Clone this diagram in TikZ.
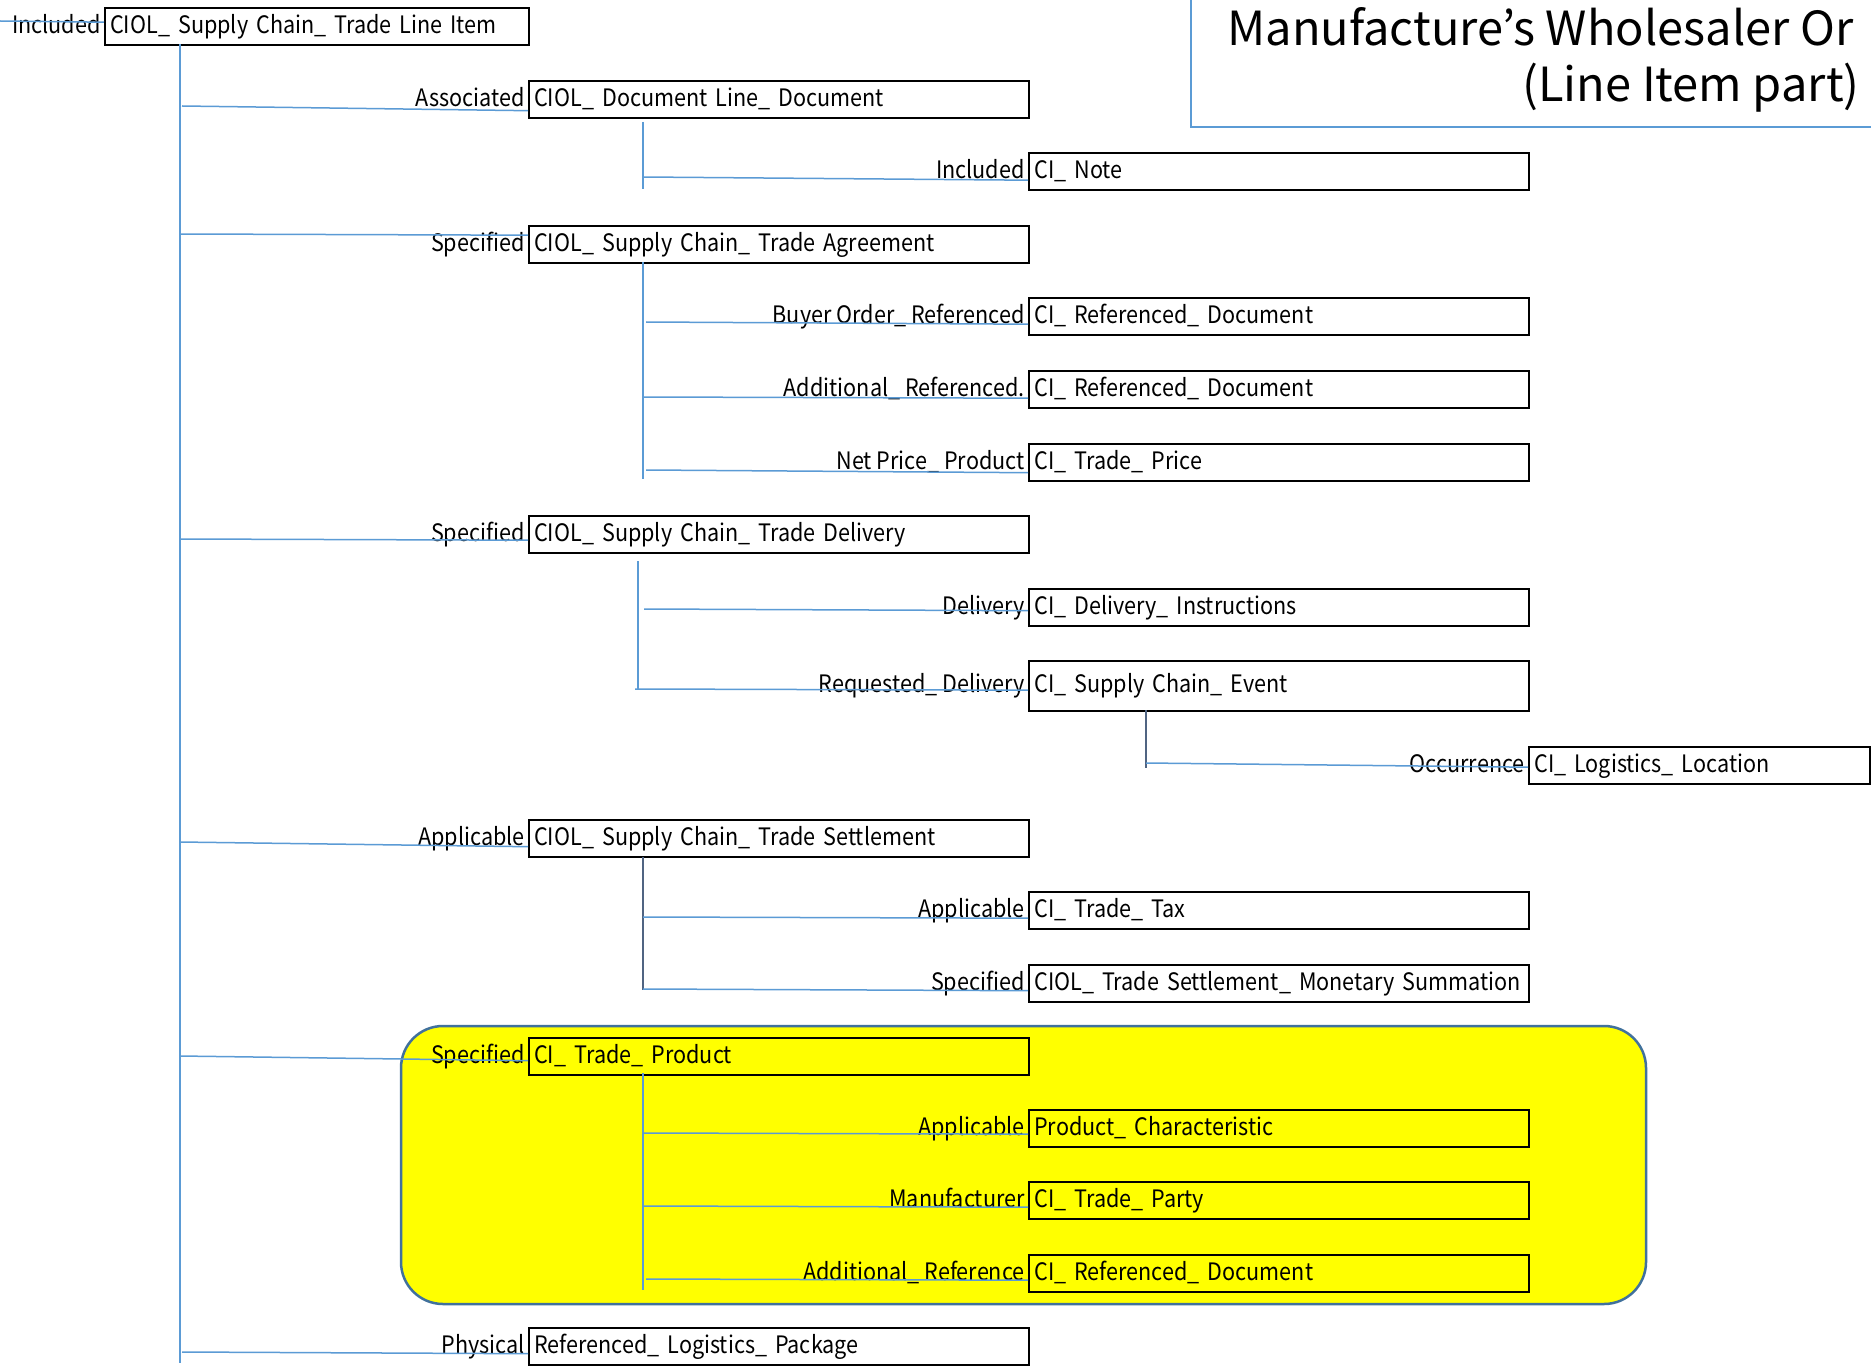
\documentclass[tikz,border=0pt]{standalone}
\usepackage{fontspec}
\setmainfont{Noto Sans CJK JP}[FakeStretch=0.9]
\newfontfamily\titlefont{Noto Sans CJK JP}
\definecolor{conn}{RGB}{91,155,213}
\definecolor{conndark}{RGB}{80,100,130}
\definecolor{hlborder}{RGB}{65,113,156}
\definecolor{titleborder}{RGB}{91,155,213}
\definecolor{hlfill}{RGB}{255,255,0}
\tikzset{
  cls/.style={draw=black, line width=1.2pt, rectangle, anchor=north west,
    minimum height=18.5pt, text width=245pt, inner xsep=2.5pt, inner ysep=0pt,
    align=left, text height=9pt, text depth=2.5pt, font=\fontsize{12}{14}\selectfont},
  clsn/.style={cls, text width=165.5pt},
  tallcls/.style={cls, minimum height=25pt},
  role/.style={anchor=east, inner xsep=1.5pt, inner ysep=0pt, text height=9pt, text depth=2.5pt,
    font=\fontsize{12}{14}\selectfont},
  link/.style={draw=conn, line width=0.75pt},
  linkd/.style={draw=conndark, line width=0.6pt},
  ttl/.style={inner sep=0pt, font=\titlefont\fontsize{23.5}{28}\selectfont}
}
\begin{document}
\begin{tikzpicture}[x=0.5pt, y=-0.5pt]
\clip (0,0) rectangle (1871,1369);
\fill[white] (0,0) rectangle (1871,1369);
% title
\draw[titleborder, line width=1pt] (1191,-20) rectangle (1890,127);
\node[ttl, anchor=base west] (t1) at (1227,46) {Manufacture’s Wholesaler Or};
\node[ttl, anchor=base east] (t2) at (1860,102) {(Line Item part)};
% highlight
\draw[fill=hlfill, draw=hlborder, line width=1.25pt, rounded corners=21pt] (401,1026) rectangle (1646,1304);
% boxes
\node[cls, text width=207pt] (main) at (104,7) {CIOL\_ Supply Chain\_ Trade Line Item};
\node[cls] (assoc) at (528,80) {CIOL\_ Document Line\_ Document};
\node[cls] (note) at (1028,152) {CI\_ Note};
\node[cls] (agree) at (528,225) {CIOL\_ Supply Chain\_ Trade Agreement};
\node[cls] (buyer) at (1028,297) {CI\_ Referenced\_ Document};
\node[cls] (addref) at (1028,370) {CI\_ Referenced\_ Document};
\node[cls] (price) at (1028,443) {CI\_ Trade\_ Price};
\node[cls] (deliv) at (528,515) {CIOL\_ Supply Chain\_ Trade Delivery};
\node[cls] (instr) at (1028,588) {CI\_ Delivery\_ Instructions};
\node[tallcls] (event) at (1028,660) {CI\_ Supply Chain\_ Event};
\node[clsn] (loc) at (1528,746) {CI\_ Logistics\_ Location};
\node[cls] (settle) at (528,819) {CIOL\_ Supply Chain\_ Trade Settlement};
\node[cls] (tax) at (1028,891) {CI\_ Trade\_ Tax};
\node[cls] (summ) at (1028,964) {CIOL\_ Trade Settlement\_ Monetary Summation};
\node[cls] (product) at (528,1037) {CI\_ Trade\_ Product};
\node[cls] (charac) at (1028,1109) {Product\_ Characteristic};
\node[cls] (party) at (1028,1181) {CI\_ Trade\_ Party};
\node[cls] (addref2) at (1028,1254) {CI\_ Referenced\_ Document};
\node[cls] (pkg) at (528,1327) {Referenced\_ Logistics\_ Package};
% role labels
\node[role] (rmain) at (main.west) {Included};
\node[role] (rassoc) at (assoc.west) {Associated};
\node[role] (rnote) at (note.west) {Included};
\node[role] (ragree) at (agree.west) {Specified};
\node[role] (rbuyer) at (buyer.west) {Buyer Order\_ Referenced};
\node[role] (raddref) at (addref.west) {Additional\_ Referenced.};
\node[role] (rprice) at (price.west) {Net Price\_ Product};
\node[role] (rdeliv) at (deliv.west) {Specified};
\node[role] (rinstr) at (instr.west) {Delivery};
\node[role] (revent) at (event.west) {Requested\_ Delivery};
\node[role] (rloc) at (loc.west) {Occurrence};
\node[role] (rsettle) at (settle.west) {Applicable};
\node[role] (rtax) at (tax.west) {Applicable};
\node[role] (rsumm) at (summ.west) {Specified};
\node[role] (rproduct) at (product.west) {Specified};
\node[role] (rcharac) at (charac.west) {Applicable};
\node[role] (rparty) at (party.west) {Manufacturer};
\node[role] (raddref2) at (addref2.west) {Additional\_ Reference};
\node[role] (rpkg) at (pkg.west) {Physical};
% coordinates
\coordinate (c0) at (0,21);
\coordinate (trTop) at (180,44);
\coordinate (trBot) at (180,1363);
\coordinate (cassoc) at (182,106);
\coordinate (cagree) at (180,234);
\coordinate (cdeliv) at (180,539);
\coordinate (csettle) at (180,842);
\coordinate (cproduct) at (180,1056);
\coordinate (cpkg) at (182,1352);
\coordinate (vaT) at (643,122); \coordinate (vaB) at (643,189);
\coordinate (vgT) at (643,262); \coordinate (vgB) at (643,479);
\coordinate (vdT) at (638,561); \coordinate (vdB) at (638,689);
\coordinate (veT) at (1146,710); \coordinate (veB) at (1146,768);
\coordinate (vsT) at (643,857); \coordinate (vsB) at (643,990);
\coordinate (vpT) at (643,1073); \coordinate (vpB) at (643,1290);
\coordinate (cnote) at (643,177);
\coordinate (cbuyer) at (646,322);
\coordinate (caddref) at (643,397);
\coordinate (cprice) at (646,470);
\coordinate (cinstr) at (644,609);
\coordinate (cevent) at (635,689);
\coordinate (cloc) at (1146,763);
\coordinate (ctax) at (643,917);
\coordinate (csumm) at (643,989);
\coordinate (ccharac) at (643,1133);
\coordinate (cparty) at (643,1206);
\coordinate (caddref2) at (646,1279);
% trunk and verticals
\draw[link] (trTop) -- (trBot);
\draw[link] (vaT) -- (vaB);
\draw[link] (vgT) -- (vgB);
\draw[link] (vdT) -- (vdB);
\draw[linkd] (veT) -- (veB);
\draw[linkd] (vsT) -- (vsB);
\draw[link] (vpT) -- (vpB);
% connectors
\draw[link] (c0) -- ([yshift=2.25pt]main.west);
\draw[link] (cassoc) -- ([yshift=-5.5pt]assoc.west);
\draw[link] (cnote) -- ([yshift=-4.25pt]note.west);
\draw[link] (cagree) -- ([yshift=4.75pt]agree.west);
\draw[link] (cbuyer) -- ([yshift=-3.75pt]buyer.west);
\draw[link] (caddref) -- ([yshift=-4.25pt]addref.west);
\draw[link] (cprice) -- ([yshift=-5pt]price.west);
\draw[link] (cdeliv) -- ([yshift=-2.75pt]deliv.west);
\draw[link] (cinstr) -- ([yshift=-1.5pt]instr.west);
\draw[link] (cevent) -- ([yshift=-2pt]event.west);
\draw[link] (cloc) -- ([yshift=-0.75pt]loc.west);
\draw[link] (csettle) -- ([yshift=-4pt]settle.west);
\draw[link] (ctax) -- ([yshift=-3.75pt]tax.west);
\draw[link] (csumm) -- ([yshift=-3.5pt]summ.west);
\draw[link] (cproduct) -- ([yshift=-2pt]product.west);
\draw[link] (ccharac) -- ([yshift=-2.75pt]charac.west);
\draw[link] (cparty) -- ([yshift=-3.25pt]party.west);
\draw[link] (caddref2) -- ([yshift=-3.25pt]addref2.west);
\draw[link] (cpkg) -- ([yshift=-3.5pt]pkg.west);
\end{tikzpicture}
\end{document}
